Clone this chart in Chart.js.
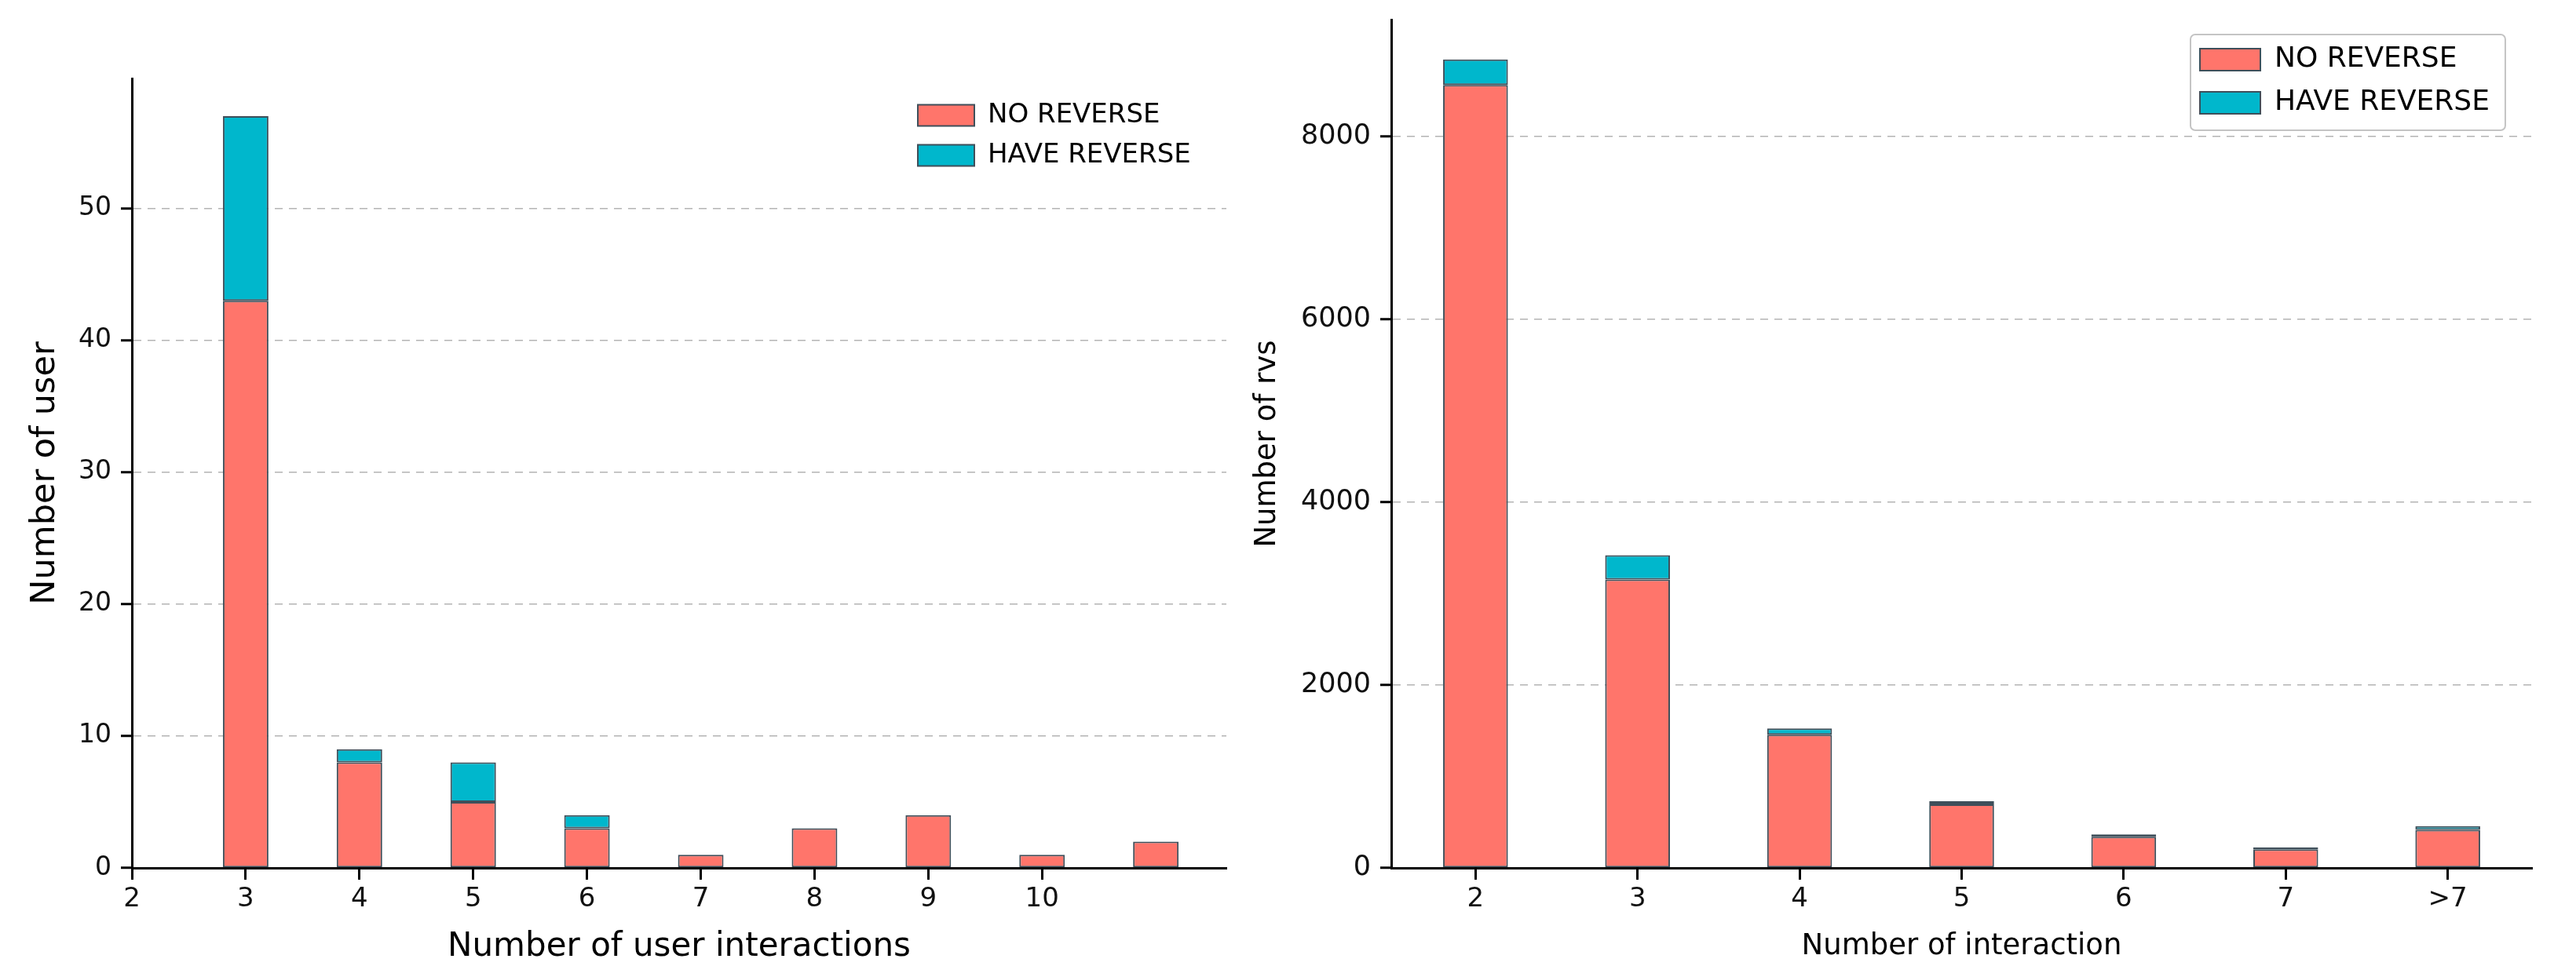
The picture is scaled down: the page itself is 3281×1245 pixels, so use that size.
<!DOCTYPE html>
<html>
<head>
<meta charset="utf-8">
<script src="https://cdn.jsdelivr.net/npm/chart.js@4.4.1/dist/chart.umd.min.js"></script>
<style>
  html, body { margin: 0; padding: 0; background: #fff; }
  .box { position: absolute; top: 0; height: 1245px; }
  #leftBox { left: 0; width: 1580px; }
  #rightBox { left: 1580px; width: 1701px; }
</style>
</head>
<body>
<div id="leftBox" class="box"><canvas id="userChart"></canvas></div>
<div id="rightBox" class="box"><canvas id="rvsChart"></canvas></div>
<script>
// left chart: number of user vs number of user interactions
const userInteractions = [3, 4, 5, 6, 7, 8, 9, 10, 11];
const userNoReverse = [43, 8, 5, 3, 1, 3, 4, 1, 2];
const userHaveReverse = [14, 1, 3, 1, 0, 0, 0, 0, 0];
const userXTicks = [2, 3, 4, 5, 6, 7, 8, 9, 10];
const userYTicks = [0, 10, 20, 30, 40, 50];

// right chart: number of rvs vs number of interaction
const rvsLabels = ['2', '3', '4', '5', '6', '7', '>7'];
const rvsNoReverse = [8565, 3155, 1458, 695, 341, 204, 416];
const rvsHaveReverse = [280, 266, 68, 34, 27, 21, 41];
const rvsYTicks = [0, 2000, 4000, 6000, 8000];

const seriesNames = ['NO REVERSE', 'HAVE REVERSE'];
const RED = '#ff756b';
const CYAN = '#00b7cc';
const EDGE = '#3f4f5a';
const FONT = "'DejaVu Sans', sans-serif";

Chart.defaults.font.family = FONT;
Chart.defaults.color = '#111';

// put the legend where we want it inside the plot, optionally with a frame
const placeLegend = {
  id: 'placeLegend',
  afterLayout(chart, args, opts) {
    const lg = chart.legend;
    if (!lg || opts.x == null) return;
    const w = lg.width, h = lg.height;
    lg.left = opts.x; lg.top = opts.y;
    lg.right = opts.x + w; lg.bottom = opts.y + h;
  },
  afterDraw(chart, args, opts) {
    if (!opts.frame) return;
    const boxes = chart.legend.legendHitBoxes;
    if (!boxes || !boxes.length) return;
    let l = Infinity, t = Infinity, r = -Infinity, b = -Infinity;
    boxes.forEach(h => {
      l = Math.min(l, h.left); t = Math.min(t, h.top);
      r = Math.max(r, h.left + h.width); b = Math.max(b, h.top + h.height);
    });
    const ctx = chart.ctx;
    ctx.save();
    ctx.strokeStyle = '#c4c4c4';
    ctx.lineWidth = 2;
    ctx.beginPath();
    ctx.roundRect(l - 12, t - 14, r - l + 32, b - t + 31, 6);
    ctx.stroke();
    ctx.restore();
  }
};

function barSet(label, data, color) {
  return {
    label: label,
    data: data,
    backgroundColor: color,
    borderColor: EDGE,
    borderWidth: 2,
    borderSkipped: false,
    categoryPercentage: 1,
    barPercentage: 0.4
  };
}

function yAxis(max, tickValues, width, title, titleSize, titlePad, tickSize) {
  return {
    stacked: true,
    min: 0,
    max: max,
    afterBuildTicks: s => { s.ticks = tickValues.map(v => ({ value: v })); },
    afterFit: s => { s.width = width; s.paddingTop = 0; s.paddingBottom = 0; },
    ticks: { autoSkip: false, padding: 12, font: { size: tickSize }, callback: v => String(v) },
    grid: {
      color: '#b4b4b4', lineWidth: 1.5,
      tickLength: 14, tickColor: '#000', tickWidth: 3, tickBorderDash: []
    },
    border: { display: true, color: '#000', width: 3, dash: [10, 8] },
    title: { display: true, text: title, font: { size: titleSize }, padding: { top: titlePad }, color: '#000' }
  };
}

function xAxis(min, max, tickValues, labelFn, title, titleSize, titlePad) {
  return {
    type: 'linear',
    stacked: true,
    offset: false,
    min: min,
    max: max,
    afterBuildTicks: s => { s.ticks = tickValues.map(v => ({ value: v })); },
    afterFit: s => { s.height = 139; },
    ticks: { padding: 5, font: { size: 34 }, maxRotation: 0, autoSkip: false, callback: labelFn },
    grid: { offset: false, drawOnChartArea: false, tickLength: 15, tickColor: '#000', tickWidth: 3 },
    border: { display: true, color: '#000', width: 3 },
    title: { display: true, text: title, font: { size: titleSize }, padding: { bottom: titlePad }, color: '#000' }
  };
}

new Chart(document.getElementById('userChart'), {
  type: 'bar',
  data: {
    datasets: [
      barSet(seriesNames[0], userInteractions.map((x, i) => ({ x: x, y: userNoReverse[i] })), RED),
      barSet(seriesNames[1], userInteractions.map((x, i) => ({ x: x, y: userHaveReverse[i] })), CYAN)
    ]
  },
  options: {
    responsive: true,
    maintainAspectRatio: false,
    devicePixelRatio: 1,
    animation: false,
    layout: { padding: { top: 100, right: 18, left: 0, bottom: 0 } },
    scales: {
      x: xAxis(2, 11.62, userXTicks, v => String(v), 'Number of user interactions', 42, 13),
      y: yAxis(59.85, userYTicks, 168, 'Number of user', 43, 32, 33)
    },
    plugins: {
      tooltip: { enabled: false },
      legend: {
        position: 'chartArea',
        align: 'start',
        labels: { boxWidth: 72, boxHeight: 27, padding: 17, font: { size: 34 }, color: '#000' }
      },
      placeLegend: { x: 1152, y: 113, frame: false }
    }
  },
  plugins: [placeLegend]
});

new Chart(document.getElementById('rvsChart'), {
  type: 'bar',
  data: {
    datasets: [
      barSet(seriesNames[0], rvsNoReverse.map((v, i) => ({ x: i, y: v })), RED),
      barSet(seriesNames[1], rvsHaveReverse.map((v, i) => ({ x: i, y: v })), CYAN)
    ]
  },
  options: {
    responsive: true,
    maintainAspectRatio: false,
    devicePixelRatio: 1,
    animation: false,
    layout: { padding: { top: 25, right: 56, left: 0, bottom: 0 } },
    scales: {
      x: xAxis(-0.52, 6.52, rvsLabels.map((l, i) => i), v => rvsLabels[v], 'Number of interaction', 37, 16),
      y: yAxis(9280, rvsYTicks, 192, 'Number of rvs', 37, 12, 35)
    },
    plugins: {
      tooltip: { enabled: false },
      legend: {
        position: 'chartArea',
        align: 'start',
        labels: { boxWidth: 77, boxHeight: 28, padding: 19, font: { size: 36 }, color: '#000' }
      },
      placeLegend: { x: 1203, y: 39, frame: true }
    }
  },
  plugins: [placeLegend]
});
</script>
</body>
</html>
